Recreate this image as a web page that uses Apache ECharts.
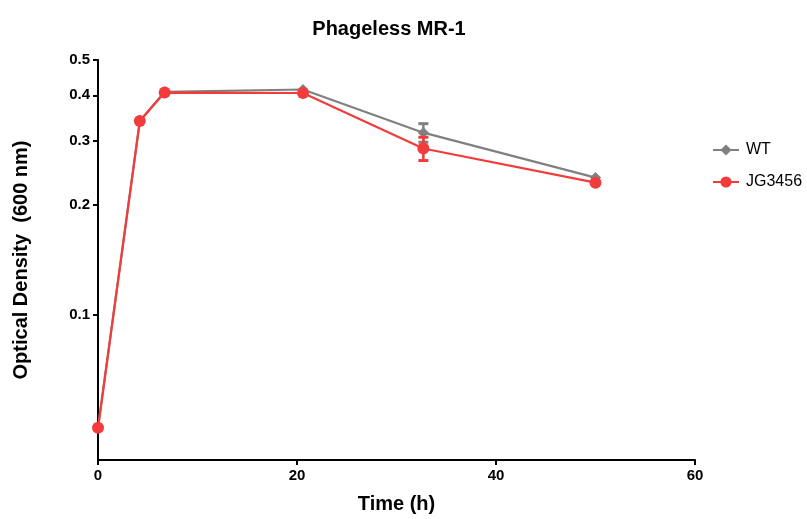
<!DOCTYPE html>
<html><head><meta charset="utf-8">
<script src="https://cdn.jsdelivr.net/npm/echarts@6/dist/echarts.min.js"></script>
<style>html,body{margin:0;padding:0;background:#fff}#c{width:807px;height:519px}</style>
</head><body><div id="c"></div>
<script>
const timeH = [0, 4.2, 6.7, 20.6, 32.7, 50];
const wtOD = [0.049, 0.340, 0.409, 0.415, 0.316, 0.238];
const wtErr = [0, 0, 0, 0, 0.0185, 0];
const jgOD = [0.049, 0.340, 0.407, 0.406, 0.286, 0.2305];
const jgErr = [0, 0, 0, 0, 0.021, 0];
const yTicks = [0.1, 0.2, 0.3, 0.4, 0.5];
const xTicks = [0, 20, 40, 60];

const FF = "'Liberation Sans', Arial, Helvetica, sans-serif";
const GRAY = '#808080', RED = '#f23c3c';
function errData(od, err) {
  return timeH.map((t, i) => [t, od[i] - err[i], od[i] + err[i]]).filter((d, i) => err[i] > 0);
}
function errSeries(name, od, err, color, z) {
  return {
    type: 'custom', name: name, z: z, silent: true,
    data: errData(od, err),
    renderItem: function (params, api) {
      const lo = api.coord([api.value(0), api.value(1)]);
      const hi = api.coord([api.value(0), api.value(2)]);
      const w = 5;
      const st = { stroke: color, lineWidth: 2.5 };
      return { type: 'group', children: [
        { type: 'line', shape: { x1: lo[0], y1: lo[1], x2: hi[0], y2: hi[1] }, style: st },
        { type: 'line', shape: { x1: lo[0] - w, y1: lo[1], x2: lo[0] + w, y2: lo[1] }, style: { stroke: color, lineWidth: 3 } },
        { type: 'line', shape: { x1: hi[0] - w, y1: hi[1], x2: hi[0] + w, y2: hi[1] }, style: { stroke: color, lineWidth: 3 } }
      ]};
    }
  };
}
const chart = echarts.init(document.getElementById('c'));
chart.setOption({
  animation: false,
  textStyle: { fontFamily: FF },
  title: { text: 'Phageless MR-1', left: 384, top: 14, textAlign: 'center',
    textStyle: { fontSize: 20, fontWeight: 'bold', color: '#000', fontFamily: FF } },
  legend: {
    orient: 'vertical', left: 707, top: 137, itemGap: 16, itemWidth: 26, itemHeight: 14,
    textStyle: { fontSize: 16, color: '#000', fontFamily: FF, padding: [0, 0, 0, 2] },
    data: ['WT', 'JG3456']
  },
  grid: { left: 98, right: 112, top: 60, bottom: 54, containLabel: false },
  xAxis: {
    type: 'value', min: 0, max: 60, interval: 20,
    name: 'Time (h)', nameLocation: 'middle', nameGap: 34,
    nameTextStyle: { fontSize: 20, fontWeight: 'bold', color: '#000', fontFamily: FF },
    axisLine: { lineStyle: { color: '#000', width: 2 } },
    axisTick: { length: 5, lineStyle: { color: '#000', width: 2 }, customValues: xTicks },
    axisLabel: { fontSize: 15, fontWeight: 'bold', color: '#000', margin: 8, fontFamily: FF, customValues: xTicks },
    splitLine: { show: false }
  },
  yAxis: {
    type: 'log', min: 0.04, max: 0.5,
    name: 'Optical Density  (600 nm)', nameLocation: 'middle', nameGap: 67,
    nameTextStyle: { fontSize: 20, fontWeight: 'bold', color: '#000', fontFamily: FF },
    axisLine: { lineStyle: { color: '#000', width: 2 } },
    axisTick: { length: 5, lineStyle: { color: '#000', width: 2 }, customValues: yTicks },
    axisLabel: { fontSize: 15, fontWeight: 'bold', color: '#000', margin: 8, fontFamily: FF, customValues: yTicks,
      formatter: v => (+v).toFixed(1) },
    splitLine: { show: false }, minorTick: { show: false }
  },
  series: [
    errSeries('WTerr', wtOD, wtErr, GRAY, 2),
    { name: 'WT', type: 'line', z: 3, data: timeH.map((t, i) => [t, wtOD[i]]),
      symbol: 'diamond', symbolSize: 11,
      lineStyle: { color: GRAY, width: 2.2 }, itemStyle: { color: GRAY } },
    errSeries('JGerr', jgOD, jgErr, RED, 4),
    { name: 'JG3456', type: 'line', z: 5, data: timeH.map((t, i) => [t, jgOD[i]]),
      symbol: 'circle', symbolSize: 12,
      lineStyle: { color: RED, width: 2.2 }, itemStyle: { color: RED } }
  ]
});
</script></body></html>
